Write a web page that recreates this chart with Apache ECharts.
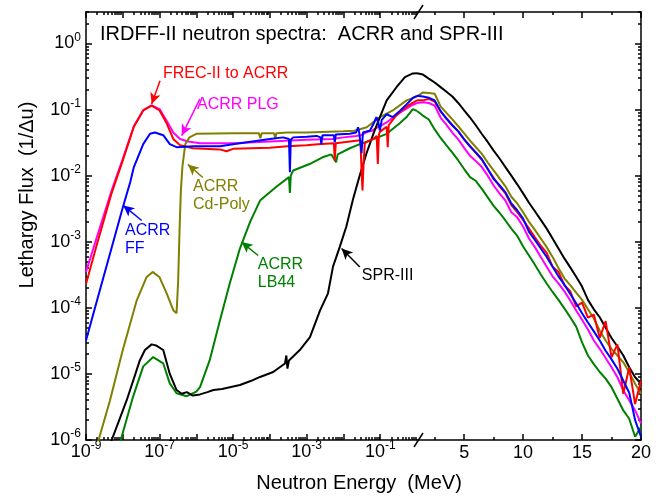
<!DOCTYPE html>
<html><head><meta charset="utf-8">
<script src="https://cdn.jsdelivr.net/npm/echarts@6/dist/echarts.min.js"></script>
<style>html,body{margin:0;padding:0;background:#fff}#c{width:664px;height:497px}</style>
</head><body><div id="c"></div>
<script>
const FONT = '"Liberation Sans", Arial, Helvetica, sans-serif';

// ---------- tick values ----------
const xLogMajor = [1e-9, 1e-8, 1e-7, 1e-6, 1e-5, 1e-4, 1e-3, 1e-2, 1e-1];
const xLogLabels = [1e-9, 1e-7, 1e-5, 1e-3, 1e-1];
const xLinMajor = [5, 10, 15, 20];
const xLinMinor = [2.5, 7.5, 12.5, 17.5];
const yMajor = [1e-6, 1e-5, 1e-4, 1e-3, 1e-2, 1e-1, 1];

// ---------- data: low-energy (log) part, energies in MeV ----------
const redLoE = [1e-9, 2e-9, 5e-9, 1e-8, 2e-8, 3.6e-8, 6.1e-8, 1e-7, 1.56e-7, 2.36e-7, 3.6e-7, 8e-7, 4.4e-6, 6.6e-6, 7.2e-6, 1e-5, 1e-4, 3e-4, 1e-3, 2e-3, 5.5e-3, 5.8e-3, 6.2e-3, 0.015, 0.025, 0.029, 0.031, 0.033, 0.035, 0.038, 0.05, 0.065, 0.08, 0.086, 0.092, 0.098, 0.13, 0.15, 0.16, 0.17, 0.18, 0.25, 0.38, 0.6, 1.0];
const redLoF = [2.3e-4, 9.3e-4, 5.5e-3, 0.017, 0.055, 0.097, 0.115, 0.097, 0.062, 0.036, 0.029, 0.026, 0.025, 0.0234, 0.025, 0.0255, 0.0265, 0.028, 0.029, 0.030, 0.031, 0.017, 0.031, 0.033, 0.034, 0.034, 0.012, 0.006, 0.014, 0.031, 0.034, 0.036, 0.040, 0.015, 0.042, 0.046, 0.052, 0.055, 0.027, 0.058, 0.062, 0.077, 0.097, 0.117, 0.138];

const magLoE = [1e-9, 2e-9, 5e-9, 1e-8, 2e-8, 3.6e-8, 6.1e-8, 1e-7, 1.56e-7, 2.36e-7, 3.6e-7, 6e-7, 1.26e-6, 1e-5, 1e-4, 1e-3, 5e-3, 0.01, 0.022, 0.03, 0.045, 0.06, 0.09, 0.15, 0.25, 0.43, 0.7, 1.0];
const magLoF = [3.5e-4, 1.2e-3, 6.0e-3, 0.018, 0.056, 0.098, 0.116, 0.102, 0.068, 0.045, 0.036, 0.033, 0.031, 0.031, 0.033, 0.035, 0.036, 0.038, 0.040, 0.041, 0.046, 0.048, 0.055, 0.064, 0.080, 0.097, 0.115, 0.126];

const blueLoE = [1e-9, 2e-9, 5e-9, 1e-8, 1.6e-8, 2e-8, 3.6e-8, 5.5e-8, 7.5e-8, 1.26e-7, 1.9e-7, 2.9e-7, 8.2e-7, 4.4e-6, 1e-5, 1e-4, 2.3e-4, 3.3e-4, 3.5e-4, 3.7e-4, 4.3e-4, 1e-3, 1.86e-3, 2.4e-3, 2.5e-3, 2.7e-3, 5.5e-3, 5.8e-3, 6.2e-3, 0.0149, 0.022, 0.025, 0.027, 0.029, 0.031, 0.034, 0.045, 0.052, 0.065, 0.079, 0.09, 0.098, 0.11, 0.15, 0.22, 0.34, 0.52, 0.77, 1.0];
const blueLoF = [3.2e-5, 1.3e-4, 8.2e-4, 3.3e-3, 8.0e-3, 0.0135, 0.030, 0.043, 0.045, 0.041, 0.030, 0.027, 0.028, 0.028, 0.030, 0.036, 0.038, 0.036, 0.0113, 0.035, 0.038, 0.039, 0.040, 0.038, 0.030, 0.041, 0.041, 0.032, 0.042, 0.043, 0.045, 0.054, 0.044, 0.043, 0.022, 0.045, 0.047, 0.048, 0.060, 0.077, 0.062, 0.048, 0.070, 0.085, 0.077, 0.095, 0.120, 0.150, 0.162];

const oliveLoE = [1.8e-9, 2.2e-9, 4.5e-9, 1e-8, 2.4e-8, 4.4e-8, 6.5e-8, 1e-7, 1.56e-7, 2.36e-7, 2.9e-7, 3.2e-7, 3.5e-7, 3.8e-7, 4.2e-7, 5e-7, 6.5e-7, 1e-6, 1e-5, 5e-5, 5.5e-5, 6e-5, 1e-4, 1.3e-4, 1.4e-4, 1.5e-4, 3e-4, 1e-3, 1e-2, 0.02, 0.043, 0.098, 0.22, 0.52, 1.0];
const oliveLoF = [6.5e-7, 1e-6, 4e-6, 2.3e-5, 1.3e-4, 2.9e-4, 3.5e-4, 2.9e-4, 1.66e-4, 9.2e-5, 8.3e-5, 2.5e-4, 1.5e-3, 6e-3, 0.014, 0.030, 0.038, 0.043, 0.044, 0.044, 0.037, 0.044, 0.044, 0.044, 0.036, 0.044, 0.045, 0.045, 0.047, 0.048, 0.054, 0.077, 0.097, 0.138, 0.158];

const greenLoE = [7.5e-9, 8.8e-9, 1.9e-8, 3.6e-8, 6.7e-8, 1.26e-7, 1.9e-7, 2.9e-7, 5.5e-7, 1e-6, 1.26e-6, 2.3e-6, 4.4e-6, 8.2e-6, 1.53e-5, 2.9e-5, 5.4e-5, 1.5e-4, 3.3e-4, 3.5e-4, 3.7e-4, 4.3e-4, 1.2e-3, 2.7e-3, 4.7e-3, 6.3e-3, 7e-3, 0.0149, 0.028, 0.052, 0.15, 0.34, 0.52, 0.77, 1.0];
const greenLoF = [7e-7, 1e-6, 4.5e-6, 1.3e-5, 1.8e-5, 1.44e-5, 7.2e-6, 5.1e-6, 4.6e-6, 5.4e-6, 6.3e-6, 1.6e-5, 6.5e-5, 2.4e-4, 7.9e-4, 2.0e-3, 4.2e-3, 6.8e-3, 9.5e-3, 5.5e-3, 1.0e-2, 0.012, 0.015, 0.019, 0.021, 0.016, 0.021, 0.026, 0.030, 0.034, 0.043, 0.062, 0.077, 0.102, 0.0955];

const blackLoE = [4.5e-9, 5e-9, 8e-9, 1.28e-8, 2e-8, 2.9e-8, 4e-8, 6.1e-8, 8e-8, 1.26e-7, 1.9e-7, 2.9e-7, 4e-7, 5.5e-7, 8e-7, 1.26e-6, 2e-6, 2.9e-6, 5e-6, 1.53e-5, 3e-5, 5.4e-5, 1.23e-4, 2.57e-4, 2.8e-4, 3e-4, 3.3e-4, 6.5e-4, 1.23e-3, 2.3e-3, 3.8e-3, 5.2e-3, 7.9e-3, 0.012, 0.018, 0.027, 0.042, 0.065, 0.098, 0.15, 0.28, 0.47, 0.77, 1.0];
const blackLoF = [7e-7, 1e-6, 2e-6, 4e-6, 8.5e-6, 1.6e-5, 2.3e-5, 2.8e-5, 2.7e-5, 2.3e-5, 1.0e-5, 5.7e-6, 5.0e-6, 5.3e-6, 4.7e-6, 4.9e-6, 5.3e-6, 5.7e-6, 5.9e-6, 6.8e-6, 7.8e-6, 9.0e-6, 1.07e-5, 1.44e-5, 1.9e-5, 1.2e-5, 1.6e-5, 2.3e-5, 3.6e-5, 9.1e-5, 1.66e-4, 4.2e-4, 8.3e-4, 1.7e-3, 4.3e-3, 9.6e-3, 0.0215, 0.043, 0.077, 0.138, 0.22, 0.31, 0.353, 0.355];

// ---------- data: high-energy (linear) part ----------
const hiE = [1, 1.5, 2, 2.5, 3, 3.5, 4, 4.5, 5, 5.5, 6, 6.5, 7, 7.5, 8, 8.5, 9, 9.5, 10, 10.5, 11, 11.5, 12, 12.5, 13, 13.5, 14, 14.5, 15, 15.5, 16, 16.5, 17, 17.5, 18, 18.5, 19, 19.5, 20];
const blackHiF = [0.355, 0.339, 0.295, 0.257, 0.219, 0.186, 0.158, 0.126, 0.0977, 0.0759, 0.0575, 0.0427, 0.0324, 0.024, 0.0182, 0.0135, 0.01, 7.4e-3, 5.4e-3, 3.9e-3, 2.9e-3, 2.14e-3, 1.58e-3, 1.12e-3, 7.9e-4, 5.6e-4, 4.1e-4, 2.95e-4, 2.1e-4, 1.32e-4, 9.5e-5, 7.2e-5, 5.0e-5, 3.5e-5, 2.6e-5, 1.9e-5, 1.26e-5, 8.9e-6, 7.1e-6];
const oliveHiF = [0.158, 0.182, 0.178, 0.174, 0.112, 0.089, 0.071, 0.056, 0.0437, 0.0339, 0.0269, 0.0214, 0.0158, 0.012, 9.1e-3, 6.9e-3, 4.8e-3, 3.8e-3, 2.8e-3, 2.0e-3, 1.51e-3, 1.12e-3, 8.3e-4, 5.9e-4, 4.0e-4, 2.8e-4, 2.2e-4, 1.7e-4, 1.32e-4, 9.5e-5, 6.9e-5, 4.5e-5, 3.2e-5, 2.4e-5, 1.9e-5, 1.5e-5, 1.05e-5, 7.1e-6, 5.0e-6];
const blueHiF = [0.162, 0.158, 0.151, 0.138, 0.0955, 0.0724, 0.0575, 0.0468, 0.0355, 0.0275, 0.0224, 0.0178, 0.0126, 8.9e-3, 7.2e-3, 5.6e-3, 3.8e-3, 3.0e-3, 2.24e-3, 1.41e-3, 1.07e-3, 7.9e-4, 5.9e-4, 4.2e-4, 3.0e-4, 2.24e-4, 1.62e-4, 1.17e-4, 8.3e-5, 6.0e-5, 4.4e-5, 3.2e-5, 2.24e-5, 1.66e-5, 1.2e-5, 7.9e-6, 5.2e-6, 2.0e-6, 1.12e-6];
const redHiF = [0.138, 0.138, 0.145, 0.132, 0.0933, 0.0741, 0.0589, 0.0468, 0.0355, 0.0282, 0.0219, 0.0174, 0.0126, 9.3e-3, 6.9e-3, 5.4e-3, 3.6e-3, 2.8e-3, 2.14e-3, 1.58e-3, 1.17e-3, 8.7e-4, 6.8e-4, 4.2e-4, 3.5e-4, 2.2e-4, 1.78e-4, 1.05e-4, 1.2e-4, 7.1e-5, 7.9e-5, 3.5e-5, 6.3e-5, 1.78e-5, 2.8e-5, 5.0e-6, 1.26e-5, 3.5e-6, 7.9e-6];
const magHiF = [0.126, 0.129, 0.126, 0.115, 0.0759, 0.0589, 0.0447, 0.0355, 0.0263, 0.02, 0.0166, 0.0135, 0.01, 7.1e-3, 5.4e-3, 4.2e-3, 2.8e-3, 2.34e-3, 1.7e-3, 1.12e-3, 8.3e-4, 5.9e-4, 4.2e-4, 3.0e-4, 2.34e-4, 1.78e-4, 1.29e-4, 9.1e-5, 6.6e-5, 4.7e-5, 3.2e-5, 2.4e-5, 1.74e-5, 1.26e-5, 8.9e-6, 5.6e-6, 4.0e-6, 2.8e-6, 1.78e-6];
const greenHiF = [0.0955, 0.0813, 0.0708, 0.0501, 0.0372, 0.0288, 0.0224, 0.017, 0.0126, 9.5e-3, 8.3e-3, 6.3e-3, 4.7e-3, 3.5e-3, 2.75e-3, 2.1e-3, 1.58e-3, 1.23e-3, 8.5e-4, 6.2e-4, 4.5e-4, 3.2e-4, 2.34e-4, 1.74e-4, 1.32e-4, 9.8e-5, 7.2e-5, 5.2e-5, 3.0e-5, 1.9e-5, 1.41e-5, 1.07e-5, 8.5e-6, 6.3e-6, 4.2e-6, 2.8e-6, 2.1e-6, 1.12e-6, 1.58e-6];

// ---------- annotations (data coordinates of the low-energy panel) ----------
const labelTexts = ['FREC-II to ACRR', 'ACRR PLG', 'ACRR\nCd-Poly', 'ACRR\nFF', 'ACRR\nLB44', 'SPR-III'];
const labelColors = ['#ff0000', '#ff00ff', '#808000', '#0000ff', '#008000', '#000000'];
const labelAtE = [1.24e-7, 1.04e-6, 8.1e-7, 1.15e-8, 4.7e-5, 0.0316];
const labelAtF = [0.35, 0.119, 5.0e-3, 1.07e-3, 3.3e-4, 3.1e-4];
const arrowFromE = [1.03e-7, 1.25e-6, 1.5e-6, 3.27e-8, 4.8e-5, 0.0279];
const arrowFromF = [0.274, 0.145, 9.4e-3, 2.1e-3, 6.2e-4, 4.15e-4];
const arrowToE = [6.1e-8, 4.0e-7, 5.9e-7, 1.03e-8, 1.7e-5, 8.9e-3];
const arrowToF = [0.122, 0.0405, 0.0148, 3.55e-3, 9.9e-4, 7.9e-4];

// ---------- helpers ----------
function logMinors(e0, e1, maxVal) {
  const out = [];
  for (let e = e0; e <= e1; e++) for (let m = 2; m <= 9; m++) { const v = m * Math.pow(10, e); if (v <= maxVal) out.push(v); }
  return out;
}
const xLogMinor = logMinors(-9, -1, 1);
const yMinor = logMinors(-6, 0, 3);
function pairs(xs, ys) { return xs.map((x, i) => [x, ys[i]]); }
function pow10(v) { return '{b|10}{s|' + Math.round(Math.log10(v)) + '}'; }
const rich = {
  b: { fontSize: 18, fontFamily: FONT, color: '#000', lineHeight: 24 },
  s: { fontSize: 12, fontFamily: FONT, color: '#000', lineHeight: 12, verticalAlign: 'top' }
};
const AX = { color: '#000', width: 1.5 };

function xAx(grid, type, pos, ticks, len, lineShow, labels) {
  const a = {
    gridIndex: grid, type: type, position: pos,
    min: type === 'log' ? 1e-9 : 1, max: type === 'log' ? 1 : 20,
    axisLine: { show: lineShow, onZero: false, lineStyle: AX },
    axisTick: { show: true, inside: true, length: len, customValues: ticks, lineStyle: AX },
    splitLine: { show: false }, minorTick: { show: false },
    axisLabel: { show: false }
  };
  if (labels) {
    a.axisLabel = type === 'log'
      ? { show: true, customValues: labels, formatter: pow10, rich: rich, margin: 0, color: '#000' }
      : { show: true, customValues: labels, fontSize: 18, fontFamily: FONT, color: '#000', margin: 4 };
  }
  return a;
}
function yAx(grid, pos, ticks, len, lineShow, labels) {
  const a = {
    gridIndex: grid, type: 'log', position: pos, min: 1e-6, max: 3,
    axisLine: { show: lineShow, onZero: false, lineStyle: AX },
    axisTick: { show: true, inside: true, length: len, customValues: ticks, lineStyle: AX },
    splitLine: { show: false }, minorTick: { show: false },
    axisLabel: { show: false }
  };
  if (labels) a.axisLabel = { show: true, customValues: labels, formatter: pow10, rich: rich, margin: 5, color: '#000' };
  return a;
}

const curves = [
  { color: '#ff00ff', loE: magLoE, loF: magLoF, hiF: magHiF, arrow: 1 },
  { color: '#808000', loE: oliveLoE, loF: oliveLoF, hiF: oliveHiF, arrow: 2 },
  { color: '#008000', loE: greenLoE, loF: greenLoF, hiF: greenHiF, arrow: 4 },
  { color: '#000000', loE: blackLoE, loF: blackLoF, hiF: blackHiF, arrow: 5 },
  { color: '#ff0000', loE: redLoE, loF: redLoF, hiF: redHiF, arrow: 0 },
  { color: '#0000ff', loE: blueLoE, loF: blueLoF, hiF: blueHiF, arrow: 3 }
];

const series = [];
curves.forEach(c => {
  const i = c.arrow;
  series.push({
    type: 'line', xAxisIndex: 0, yAxisIndex: 0, data: pairs(c.loE, c.loF),
    showSymbol: false, symbol: 'none', clip: true, silent: true,
    lineStyle: { color: c.color, width: 2 }, itemStyle: { color: c.color },
    markLine: {
      silent: true, animation: false, symbol: ['none', 'arrow'], symbolSize: [8, 11],
      label: { show: false }, lineStyle: { color: c.color, width: 1.5, type: 'solid' },
      data: [[{ coord: [arrowFromE[i], arrowFromF[i]] }, { coord: [arrowToE[i], arrowToF[i]] }]]
    }
  });
  series.push({
    type: 'line', xAxisIndex: 4, yAxisIndex: 2, data: pairs(hiE, c.hiF),
    showSymbol: false, symbol: 'none', clip: true, silent: true,
    lineStyle: { color: c.color, width: 2 }, itemStyle: { color: c.color }
  });
});

const chart = echarts.init(document.getElementById('c'), null, { renderer: 'canvas', width: 664, height: 497 });
const option = {
  animation: false,
  backgroundColor: '#ffffff',
  textStyle: { fontFamily: FONT },
  grid: [
    { left: 86, top: 12, width: 331, height: 428, containLabel: false, outerBoundsMode: 'none' },
    { left: 417, top: 12, width: 224, height: 428, containLabel: false, outerBoundsMode: 'none' }
  ],
  xAxis: [
    xAx(0, 'log', 'bottom', xLogMajor, 6, true, xLogLabels),
    xAx(0, 'log', 'bottom', xLogMinor, 3, false, null),
    xAx(0, 'log', 'top', xLogMajor, 6, true, null),
    xAx(0, 'log', 'top', xLogMinor, 3, false, null),
    xAx(1, 'value', 'bottom', xLinMajor, 6, true, xLinMajor),
    xAx(1, 'value', 'bottom', xLinMinor, 3, false, null),
    xAx(1, 'value', 'top', xLinMajor, 6, true, null),
    xAx(1, 'value', 'top', xLinMinor, 3, false, null)
  ],
  yAxis: [
    yAx(0, 'left', yMajor, 6, true, yMajor),
    yAx(0, 'left', yMinor, 3, false, null),
    yAx(1, 'right', yMajor, 6, true, null),
    yAx(1, 'right', yMinor, 3, false, null)
  ],
  series: series
};
chart.setOption(option);

// annotations positioned from data coordinates
const toPx = (e, f) => chart.convertToPixel({ xAxisIndex: 0, yAxisIndex: 0 }, [e, f]);
const graphics = [];
labelTexts.forEach((t, i) => {
  const p = toPx(labelAtE[i], labelAtF[i]);
  graphics.push({ type: 'text', x: p[0], y: p[1], silent: true,
    style: { text: t, fill: labelColors[i], fontSize: 16, fontFamily: FONT, lineHeight: 18,
      align: 'left', verticalAlign: 'middle', textAlign: 'left', textVerticalAlign: 'middle' } });
});
// axis break marks
const bBot = toPx(1, 1e-6), bTop = toPx(1, 3);
[bBot, bTop].forEach(p => {
  graphics.push({ type: 'line', silent: true, shape: { x1: p[0] - 3, y1: p[1] + 7, x2: p[0] + 6, y2: p[1] - 7 },
    style: { stroke: '#000', lineWidth: 1.5 } });
});
// titles
graphics.push({ type: 'text', x: 100, y: 34, silent: true,
  style: { text: 'IRDFF-II neutron spectra:  ACRR and SPR-III', fill: '#000', fontSize: 20, fontFamily: FONT,
    align: 'left', verticalAlign: 'middle', textAlign: 'left', textVerticalAlign: 'middle' } });
graphics.push({ type: 'text', x: 359, y: 483, silent: true,
  style: { text: 'Neutron Energy  (MeV)', fill: '#000', fontSize: 20, fontFamily: FONT,
    align: 'center', verticalAlign: 'middle', textAlign: 'center', textVerticalAlign: 'middle' } });
graphics.push({ type: 'text', x: 27, y: 195, rotation: Math.PI / 2, silent: true,
  style: { text: 'Lethargy Flux  (1/\u0394u)', fill: '#000', fontSize: 20, fontFamily: FONT,
    align: 'center', verticalAlign: 'middle', textAlign: 'center', textVerticalAlign: 'middle' } });
chart.setOption({ graphic: graphics });
</script></body></html>
